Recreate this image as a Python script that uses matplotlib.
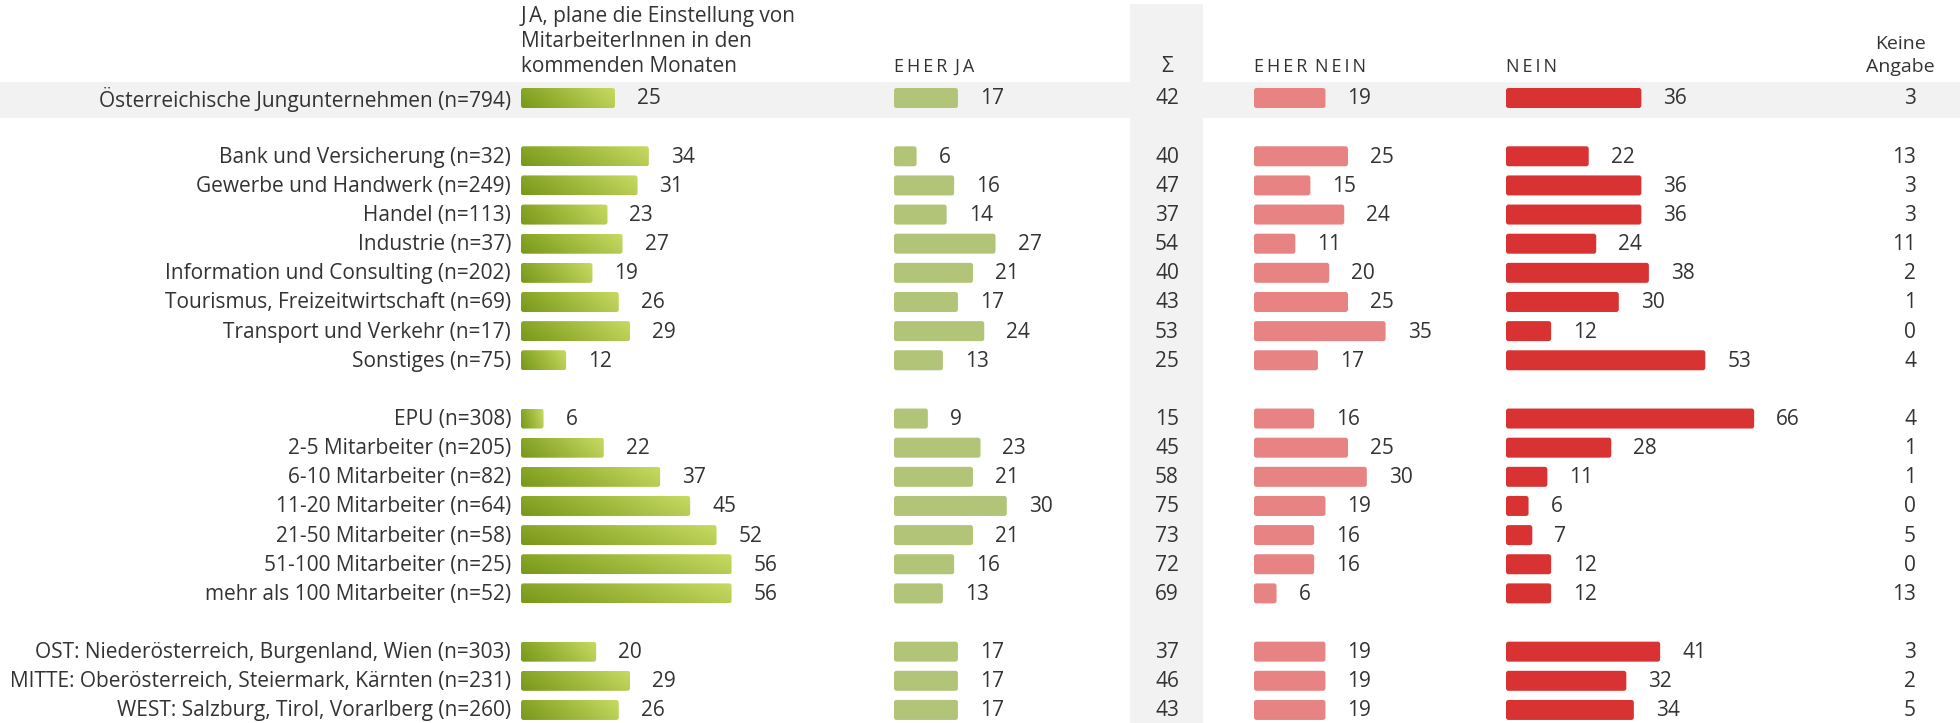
import numpy as np
import matplotlib
matplotlib.use('Agg')
import matplotlib.pyplot as plt
from matplotlib.patches import FancyBboxPatch, Rectangle
from matplotlib.colors import LinearSegmentedColormap

plt.rcParams['font.family'] = ['Open Sans', 'DejaVu Sans']

# data (percent)
categories = [
    "Österreichische Jungunternehmen (n=794)",
    "Bank und Versicherung (n=32)",
    "Gewerbe und Handwerk (n=249)",
    "Handel (n=113)",
    "Industrie (n=37)",
    "Information und Consulting (n=202)",
    "Tourismus, Freizeitwirtschaft (n=69)",
    "Transport und Verkehr (n=17)",
    "Sonstiges (n=75)",
    "EPU (n=308)",
    "2-5 Mitarbeiter (n=205)",
    "6-10 Mitarbeiter (n=82)",
    "11-20 Mitarbeiter (n=64)",
    "21-50 Mitarbeiter (n=58)",
    "51-100 Mitarbeiter (n=25)",
    "mehr als 100 Mitarbeiter (n=52)",
    "OST: Niederösterreich, Burgenland, Wien (n=303)",
    "MITTE: Oberösterreich, Steiermark, Kärnten (n=231)",
    "WEST: Salzburg, Tirol, Vorarlberg (n=260)",
]
group_sizes = [1, 8, 7, 3]

ja        = [25, 34, 31, 23, 27, 19, 26, 29, 12, 6, 22, 37, 45, 52, 56, 56, 20, 29, 26]
eher_ja   = [17, 6, 16, 14, 27, 21, 17, 24, 13, 9, 23, 21, 30, 21, 16, 13, 17, 17, 17]
summe     = [42, 40, 47, 37, 54, 40, 43, 53, 25, 15, 45, 58, 75, 73, 72, 69, 37, 46, 43]
eher_nein = [19, 25, 15, 24, 11, 20, 25, 35, 17, 16, 25, 30, 19, 16, 16, 6, 19, 19, 19]
nein      = [36, 22, 36, 36, 24, 38, 30, 12, 53, 66, 28, 11, 6, 7, 12, 12, 41, 32, 34]
keine     = [3, 13, 3, 3, 11, 2, 1, 0, 4, 4, 1, 1, 0, 5, 0, 13, 3, 2, 5]

# layout in pixels
W, H = 1960, 723
row0, step = 98, 29.14
bar_h = 20
px = 3.76          # pixels per percent
label_x = 511
ja_x, eja_x, sum_x, ena_x, nein_x, ka_x = 521, 894, 1167, 1254, 1506, 1916
txt = '#333333'
fs = 15

rows = []
r = 0
for g in group_sizes:
    rows += list(range(r, r + g))
    r += g + 1
ys = [row0 + step * i for i in rows]

fig = plt.figure(figsize=(W / 100, H / 100), dpi=100)
ax = fig.add_axes([0, 0, 1, 1])
ax.set_xlim(0, W)
ax.set_ylim(H, 0)
ax.axis('off')

# background bands
ax.add_patch(Rectangle((1130, 4), 73, H, color='#f2f2f2', lw=0, zorder=0))
ax.add_patch(Rectangle((0, ys[0] - 16), W, 36, color='#f2f2f2', lw=0, zorder=0))

cmap = LinearSegmentedColormap.from_list('ja', ['#789818', '#c7da62'])


def rbar(x0, y, w, color=None, grad=False):
    p = FancyBboxPatch((x0, y - bar_h / 2), w, bar_h,
                       boxstyle='round,pad=0,rounding_size=2.5',
                       fc=color if color else 'none', ec='none', zorder=2)
    ax.add_patch(p)
    if grad:
        nx, ny = max(int(w), 2), bar_h
        u = np.linspace(0, 1, nx)[None, :]
        v = np.linspace(0, 1, ny)[:, None]   # 0 = top row on screen
        t = np.clip(0.8 * u + 0.2 * (1 - v), 0, 1)
        im = ax.imshow(t, cmap=cmap, vmin=0, vmax=1, aspect='auto',
                       extent=(x0, x0 + w, y - bar_h / 2, y + bar_h / 2),
                       origin='lower', zorder=2)
        im.set_clip_path(p)


for i, y in enumerate(ys):
    ty = y + 1
    ax.text(label_x, ty, categories[i], ha='right', va='center', fontsize=fs, color=txt)
    cols = [(ja_x, ja[i], None, True), (eja_x, eher_ja[i], '#b1c477', False),
            (ena_x, eher_nein[i], '#e78383', False), (nein_x, nein[i], '#d93232', False)]
    for x0, v, c, g in cols:
        w = v * px
        rbar(x0, y, w, c, g)
        ax.text(x0 + w + 22, ty, str(v), ha='left', va='center', fontsize=fs, color=txt)
    ax.text(sum_x, ty, str(summe[i]), ha='center', va='center', fontsize=fs, color=txt)
    ax.text(ka_x, ty, str(keine[i]), ha='right', va='center', fontsize=fs, color=txt)

# headers
sp = '\u2009'
ax.text(ja_x, 72, 'J' + sp + 'A, plane die Einstellung von\nMitarbeiterInnen in den\nkommenden Monaten',
        ha='left', va='baseline', fontsize=15, color=txt, linespacing=1.25)
cs = 13
ax.text(eja_x, 72, sp.join('EHER') + ' ' + sp + sp.join('JA'), ha='left', va='baseline', fontsize=cs, color=txt)
ax.text(sum_x, 72, 'Σ', ha='center', va='baseline', fontsize=15, color=txt)
ax.text(ena_x, 72, sp.join('EHER') + ' ' + sp + sp.join('NEIN'), ha='left', va='baseline', fontsize=cs, color=txt)
ax.text(nein_x, 72, sp.join('NEIN'), ha='left', va='baseline', fontsize=cs, color=txt)
ax.text(1900, 72, 'Keine\nAngabe', ha='center', va='baseline', fontsize=14, color=txt,
        linespacing=1.34, multialignment='center')

fig.savefig('out.png', dpi=100)
